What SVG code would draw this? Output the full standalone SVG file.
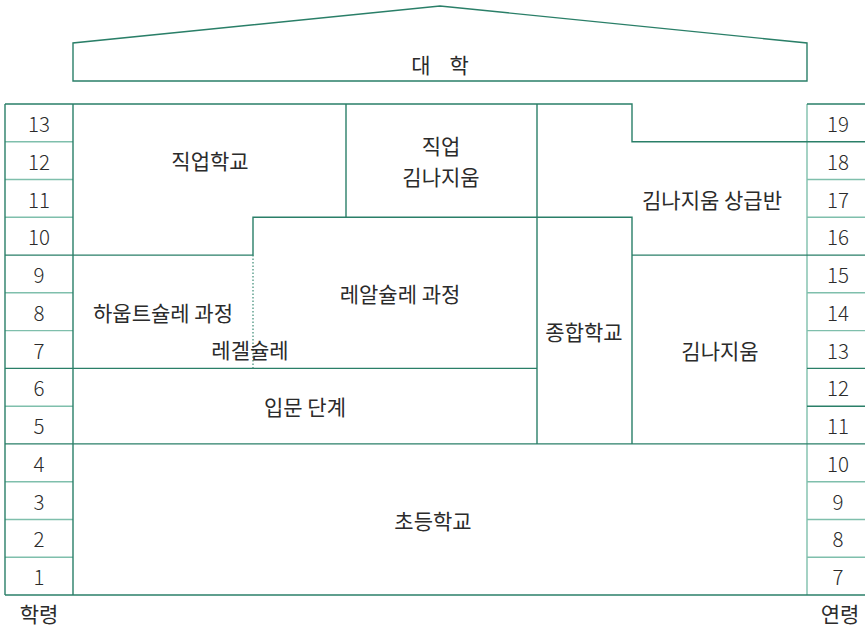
<svg xmlns="http://www.w3.org/2000/svg" width="865" height="627" viewBox="0 0 865 627">
<style>
.m{fill:none;stroke:#2a7f68;stroke-width:1.4}
.l{fill:none;stroke:#7fbfac;stroke-width:1.4}
.d{fill:none;stroke:#3a8a74;stroke-width:1.2;stroke-dasharray:1.5 2}
text{font-family:"Noto Sans CJK KR","Noto Sans",sans-serif;font-size:21px;font-weight:400;fill:#2b2b2b;text-anchor:middle;dominant-baseline:central}
.n{font-size:20.5px;font-weight:300}
</style>
<rect width="865" height="627" fill="#fff"/>
<g id="university">
<path class="m" d="M73,81 L73,43 L440,6 L807,43 L807,81 Z"/>
<text x="440" y="64" xml:space="preserve">대    학</text>
</g>
<g id="connectors">
<path class="l" d="M5,141.8H73M5,179.5H73M5,217.3H73M5,292.8H73M5,330.6H73M5,406.2H73M5,481.7H73M5,519.5H73M5,557.2H73"/>
<path class="m" d="M5,104H73M5,104V595M73,104V595M5,255.1H73M5,368.4H73M5,443.9H73"/>
<path class="l" d="M807,179.5H865M807,217.3H865M807,292.8H865M807,330.6H865M807,481.7H865M807,519.5H865M807,557.2H865M807,104V595"/>
<path class="m" d="M807,104H865M807,141.8H865M807,255.1H865M807,368.4H865M807,406.2H865M807,443.9H865"/>
<path class="m" d="M73,104H632V141.8H807"/>
<path class="m" d="M346,104V217.3"/>
<path class="m" d="M537,104V443.9"/>
<path class="m" d="M73,255.1H253V217.3H632V443.9"/>
<path class="m" d="M632,255.1H807"/>
<path class="m" d="M73,368.4H537"/>
<path class="m" d="M73,443.9H807"/>
<path class="m" d="M5,595H865"/>
<path class="d" d="M253,255.1V368.4"/>
</g>
<g id="grades">
<text class="n" x="39" y="123">13</text>
<text class="n" x="39" y="161">12</text>
<text class="n" x="39" y="199">11</text>
<text class="n" x="39" y="236">10</text>
<text class="n" x="39" y="274">9</text>
<text class="n" x="39" y="312">8</text>
<text class="n" x="39" y="350">7</text>
<text class="n" x="39" y="387">6</text>
<text class="n" x="39" y="425">5</text>
<text class="n" x="39" y="463">4</text>
<text class="n" x="39" y="501">3</text>
<text class="n" x="39" y="538">2</text>
<text class="n" x="39" y="576">1</text>
<text x="39" y="613">학령</text>
</g>
<g id="ages">
<text class="n" x="838" y="123">19</text>
<text class="n" x="838" y="161">18</text>
<text class="n" x="838" y="199">17</text>
<text class="n" x="838" y="236">16</text>
<text class="n" x="838" y="274">15</text>
<text class="n" x="838" y="312">14</text>
<text class="n" x="838" y="350">13</text>
<text class="n" x="838" y="387">12</text>
<text class="n" x="838" y="425">11</text>
<text class="n" x="838" y="463">10</text>
<text class="n" x="838" y="501">9</text>
<text class="n" x="838" y="538">8</text>
<text class="n" x="838" y="576">7</text>
<text x="840" y="613">연령</text>
</g>
<g id="vocational"><text x="210" y="160">직업학교</text></g>
<g id="vocational-gymnasium"><text x="441" y="145">직업</text><text x="441" y="176">김나지움</text></g>
<g id="gymnasium-upper"><text x="712" y="199">김나지움 상급반</text></g>
<g id="realschule"><text x="400" y="293">레알슐레 과정</text></g>
<g id="hauptschule"><text x="163" y="312">하웁트슐레 과정</text></g>
<g id="regelschule"><text x="250" y="349">레겔슐레</text></g>
<g id="gesamtschule"><text x="584" y="331">종합학교</text></g>
<g id="gymnasium"><text x="720" y="350">김나지움</text></g>
<g id="orientation"><text x="305" y="406">입문 단계</text></g>
<g id="primary"><text x="433" y="520">초등학교</text></g>
</svg>
